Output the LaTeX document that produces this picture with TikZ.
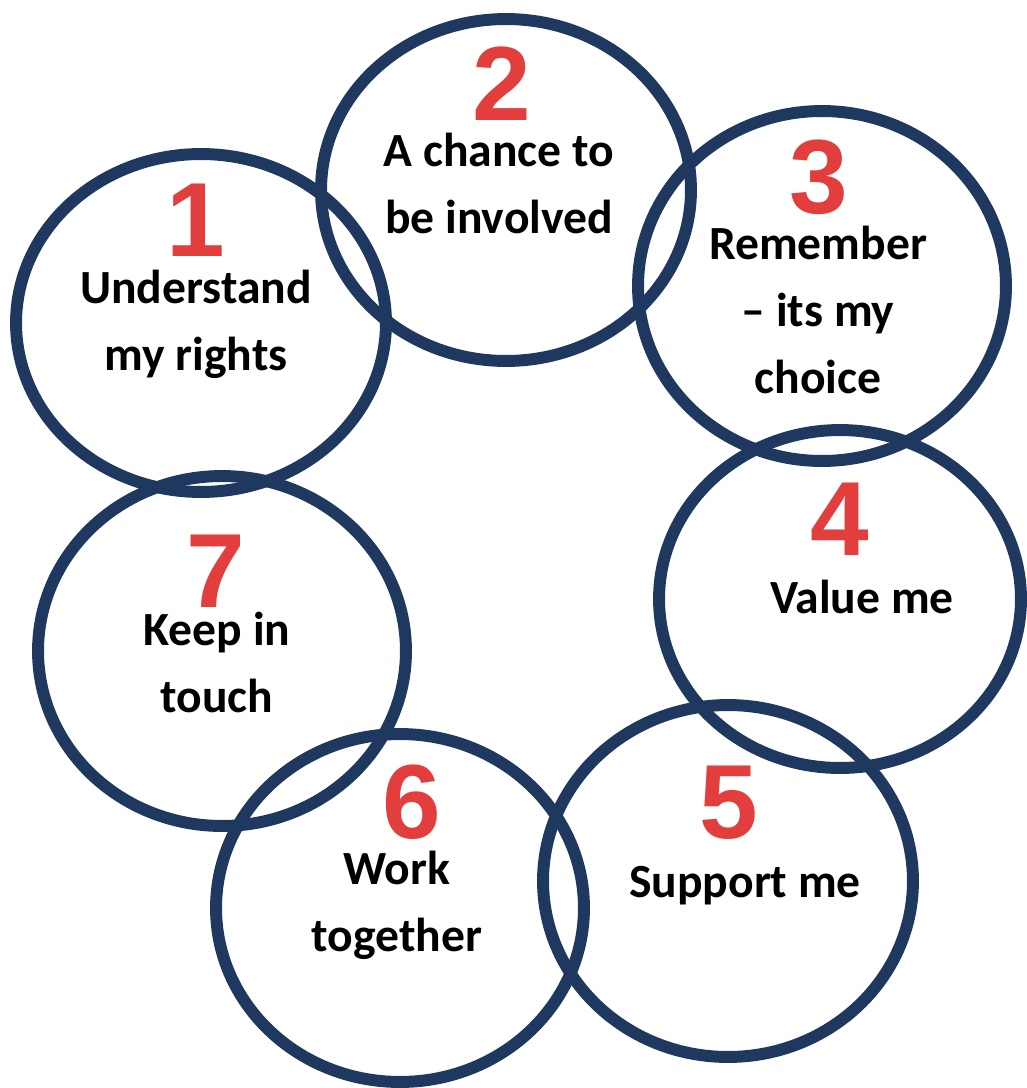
\documentclass[tikz,border=0pt]{standalone}
\usepackage{fontspec}
\setmainfont{Carlito}
\newfontfamily\digitfont{Liberation Sans}
\usetikzlibrary{shapes.geometric}
\definecolor{ringblue}{RGB}{31,56,96}
\definecolor{numred}{RGB}{226,62,62}

\begin{document}
\begin{tikzpicture}[x=0.02cm,y=-0.02cm,
    ring/.style={ellipse,draw=ringblue,line width=6.8pt,inner sep=0pt},
    num/.style={text=numred,font=\digitfont\bfseries\fontsize{60}{60}\selectfont,inner sep=0pt,anchor=base},
    word/.style={font=\bfseries\fontsize{27.1}{38.1}\selectfont,align=center,anchor=base,inner sep=0pt}]
        \useasboundingbox (0,0) rectangle (1027,1088);
        % rings
        \node [ring,minimum width=7.4cm,minimum height=6.76cm] (c1) at (201,323) {};
        \node [ring,minimum width=7.4cm,minimum height=6.84cm] (c2) at (506,190) {};
        \node [ring,minimum width=7.36cm,minimum height=7cm] (c3) at (822,286) {};
        \node [ring,minimum width=7.24cm,minimum height=6.76cm] (c4) at (840,599) {};
        \node [ring,minimum width=7.4cm,minimum height=7.04cm] (c5) at (728,881) {};
        \node [ring,minimum width=7.36cm,minimum height=6.96cm] (c6) at (400,908) {};
        \node [ring,minimum width=7.36cm,minimum height=7cm] (c7) at (222,651) {};
        % numbers
        \node [num] (n1) at (196,256) {1};
        \node [num] (n2) at (502,120) {2};
        \node [num] (n3) at (819,213) {3};
        \node [num] (n4) at (840,555) {4};
        \node [num] (n5) at (729,838) {5};
        \node [num] (n6) at (412,838) {6};
        \node [num] (n7) at (216,607) {7};
        % texts (base = last line)
        \node [word] (t1) at (196,370) {Understand\\my rights};
        \node [word] (t2) at (499,233) {A chance to\\be involved};
        \node [word] (t3) at (818,393) {Remember\\– its my\\choice};
        \node [word] (t4) at (862,613) {Value me};
        \node [word] (t5) at (745,897) {Support me};
        \node [word] (t6) at (397,951) {Work\\together};
        \node [word] (t7) at (217,712) {Keep in\\touch};
\end{tikzpicture}
\end{document}
